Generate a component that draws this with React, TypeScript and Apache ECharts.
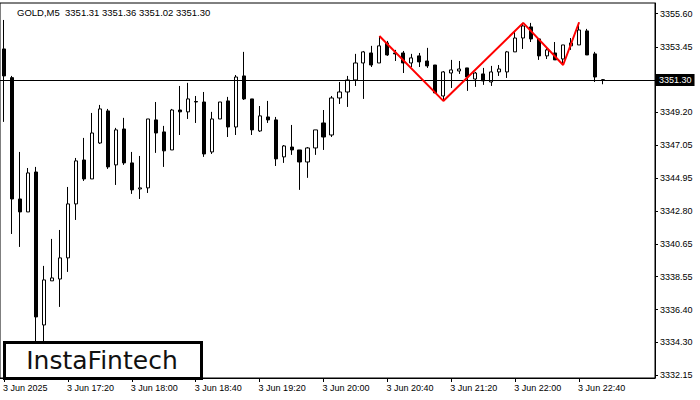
import React, { useEffect, useRef } from "react";
import * as echarts from "echarts";

const symbolTitle = "GOLD,M5  3351.31 3351.36 3351.02 3351.30";
const startTime = "16:40";
const stepMinutes = 5;
const slotCount = 82;

const openValues = [
  3353.31, 3351.45, 3343.58, 3342.74, 3345.33, 3335.41, 3338.27, 3338.39, 3339.76, 3343.26,
  3346.11, 3344.88, 3347.21, 3349.29, 3345.79, 3348.12, 3345.92, 3344.23, 3344.30, 3348.71,
  3347.93, 3346.76, 3349.35, 3349.23, 3349.90, 3349.87, 3346.63, 3348.77, 3349.94, 3348.25,
  3351.56, 3350.07, 3347.99, 3348.90, 3348.71, 3346.31, 3346.95, 3346.76, 3345.98, 3346.89,
  3348.51, 3347.73, 3350.13, 3350.52, 3351.30, 3352.40, 3353.05, 3352.40, 3353.70, 3353.05,
  3353.05, 3352.40, 3352.86, 3352.53, 3352.27, 3350.26, 3351.75, 3351.88, 3352.08, 3351.36,
  3351.69, 3351.17, 3351.82, 3351.82, 3353.12, 3354.02, 3354.74, 3353.96, 3352.86, 3353.05,
  3352.66, 3353.51, 3353.57, 3354.48, 3352.99, 3351.31,
];
const closeValues = [
  3351.56, 3343.58, 3342.74, 3345.27, 3335.93, 3338.33, 3338.46, 3339.76, 3343.26, 3346.05,
  3344.88, 3347.86, 3349.42, 3345.66, 3348.06, 3345.92, 3344.17, 3344.30, 3348.77, 3347.86,
  3346.70, 3349.35, 3349.23, 3350.07, 3349.87, 3346.50, 3348.77, 3349.87, 3348.25, 3351.49,
  3350.07, 3348.06, 3348.97, 3348.71, 3346.18, 3347.02, 3346.76, 3345.98, 3346.89, 3348.06,
  3347.60, 3350.13, 3350.52, 3351.30, 3352.40, 3353.12, 3352.27, 3353.51, 3352.92, 3352.99,
  3352.40, 3352.73, 3352.47, 3352.21, 3350.46, 3351.82, 3351.95, 3352.01, 3351.49, 3351.75,
  3351.24, 3351.82, 3352.01, 3353.12, 3354.02, 3354.80, 3353.96, 3352.86, 3353.25, 3352.60,
  3353.57, 3353.70, 3354.54, 3352.92, 3351.49, 3351.30,
];
const lowValues = [
  3348.58, 3341.31, 3340.47, 3342.74, 3333.01, 3333.47, 3338.27, 3336.58, 3338.85, 3342.22,
  3344.75, 3344.88, 3347.15, 3345.53, 3344.49, 3345.79, 3343.91, 3343.58, 3343.97, 3346.57,
  3345.66, 3346.76, 3347.73, 3348.77, 3348.51, 3346.31, 3346.50, 3348.77, 3347.60, 3347.73,
  3350.00, 3347.73, 3347.93, 3348.51, 3345.72, 3345.92, 3346.44, 3344.17, 3344.95, 3346.44,
  3346.76, 3347.60, 3349.74, 3349.55, 3350.91, 3350.07, 3352.14, 3352.40, 3352.86, 3352.53,
  3351.75, 3352.14, 3352.14, 3352.08, 3350.46, 3349.94, 3350.78, 3351.69, 3350.59, 3350.85,
  3350.98, 3350.91, 3351.56, 3351.43, 3353.12, 3353.31, 3353.76, 3352.60, 3352.66, 3352.60,
  3352.40, 3353.25, 3353.57, 3352.92, 3351.17, 3351.02,
];
const highValues = [
  3355.19, 3351.56, 3346.63, 3345.59, 3345.66, 3339.24, 3340.99, 3341.57, 3344.36, 3346.24,
  3347.54, 3349.16, 3349.68, 3349.42, 3348.19, 3348.84, 3346.63, 3346.37, 3348.77, 3349.87,
  3348.32, 3349.42, 3350.91, 3351.11, 3350.26, 3350.52, 3349.23, 3349.87, 3350.20, 3351.62,
  3353.12, 3350.07, 3349.61, 3349.94, 3348.90, 3347.08, 3348.38, 3346.76, 3346.95, 3348.06,
  3349.35, 3350.26, 3351.17, 3351.56, 3352.99, 3353.18, 3353.51, 3354.15, 3353.83, 3353.25,
  3353.18, 3352.99, 3353.05, 3353.38, 3352.27, 3351.88, 3352.60, 3352.53, 3352.08, 3351.82,
  3352.08, 3352.21, 3352.27, 3353.18, 3354.41, 3355.00, 3355.00, 3354.02, 3353.38, 3353.76,
  3353.57, 3354.02, 3355.00, 3354.61, 3353.12, 3351.36,
];

const patternBars = [47, 55, 65, 70, 72];
const patternPrices = [3354.15, 3349.94, 3355.0, 3352.27, 3355.04];

const currentPrice = 3351.3;
const yTickValues = [
  3332.15, 3334.3, 3336.4, 3338.55, 3340.65, 3342.8, 3344.95, 3347.05, 3349.2, 3353.45, 3355.6,
];
const dateLabel = "3 Jun 2025";
const dayPrefix = "3 Jun ";

function buildCategories(): string[] {
  const [h0, m0] = startTime.split(":").map(Number);
  const out: string[] = [];
  for (let i = 0; i < slotCount; i++) {
    const t = h0 * 60 + m0 + i * stepMinutes;
    const hh = String(Math.floor(t / 60) % 24).padStart(2, "0");
    const mm = String(t % 60).padStart(2, "0");
    out.push(hh + ":" + mm);
  }
  return out;
}

export default function App() {
  const ref = useRef<HTMLDivElement>(null);
  useEffect(() => {
    if (!ref.current) return;
    const chart = echarts.init(ref.current, undefined, { renderer: "svg" });
    const categories = buildCategories();
    const candles = openValues.map((o, i) => [o, closeValues[i], lowValues[i], highValues[i]]);
    const lastBar = openValues.length - 1;
    const showIdx = (i: number) => i % 8 === 0 && i <= lastBar;
    const font = "Liberation Sans, Arial, sans-serif";
    chart.setOption({
      animation: false,
      backgroundColor: "#ffffff",
      grid: {
        left: -1,
        top: 3,
        width: 656,
        height: 375,
        show: true,
        borderColor: "#000",
        borderWidth: 1,
        backgroundColor: "transparent",
      },
      xAxis: {
        type: "category",
        data: categories,
        boundaryGap: true,
        axisLine: { show: true, lineStyle: { color: "#000", width: 1 } },
        axisTick: {
          show: true,
          alignWithLabel: true,
          interval: (i: number) => showIdx(i),
          length: 4,
          lineStyle: { color: "#000" },
        },
        axisLabel: {
          interval: (i: number) => showIdx(i),
          formatter: (v: string, i: number) => (i === 0 ? dateLabel : dayPrefix + v),
          align: "left",
          margin: 5,
          color: "#000",
          fontSize: 9,
          fontFamily: font,
          padding: [0, 0, 0, -1],
        },
        splitLine: { show: false },
      },
      yAxis: {
        type: "value",
        position: "right",
        scale: true,
        min: 3331.97,
        max: 3356.29,
        axisLine: { show: true, lineStyle: { color: "#000", width: 1 } },
        axisTick: {
          show: true,
          length: 3,
          customValues: yTickValues,
          lineStyle: { color: "#000" },
        },
        axisLabel: {
          customValues: yTickValues,
          formatter: (v: number) => v.toFixed(2),
          margin: 5,
          color: "#000",
          fontSize: 9,
          fontFamily: font,
        },
        splitLine: { show: false },
      },
      series: [
        {
          type: "candlestick",
          data: candles,
          barWidth: 3.6,
          itemStyle: {
            color: "#ffffff",
            color0: "#000000",
            borderColor: "#000000",
            borderColor0: "#000000",
            borderWidth: 1,
          },
          markLine: {
            silent: true,
            symbol: ["none", "none"],
            data: [{ yAxis: currentPrice }],
            lineStyle: { color: "#000", type: "solid", width: 1 },
            label: {
              show: true,
              position: "end",
              distance: 1,
              formatter: () => currentPrice.toFixed(2),
              backgroundColor: "#000",
              color: "#fff",
              fontSize: 9,
              fontFamily: font,
              padding: [2, 3, 1, 3],
            },
          },
        },
        {
          type: "line",
          data: patternBars.map((b, i) => [b, patternPrices[i]]),
          symbol: "none",
          lineStyle: { color: "#ff0000", width: 2 },
          itemStyle: { color: "#ff0000" },
          z: 5,
        },
      ],
      graphic: [
        {
          type: "text",
          left: 17,
          top: 7,
          style: { text: symbolTitle, fill: "#000", font: "9.5px Liberation Sans, Arial, sans-serif" },
          z: 10,
        },
        {
          type: "rect",
          shape: { x: 4.5, y: 342.5, width: 197, height: 36 },
          style: { fill: "#fff", stroke: "#000", lineWidth: 3 },
          z: 20,
        },
        {
          type: "text",
          x: 102,
          y: 360,
          style: {
            text: "InstaFintech",
            fill: "#111",
            font: "25px DejaVu Sans, sans-serif",
            align: "center",
            verticalAlign: "middle",
          },
          z: 21,
        },
      ],
    });
    return () => chart.dispose();
  }, []);
  return (
    <div
      ref={ref}
      style={{ position: "fixed", left: 0, top: 0, width: 700, height: 400, background: "#fff" }}
    />
  );
}
